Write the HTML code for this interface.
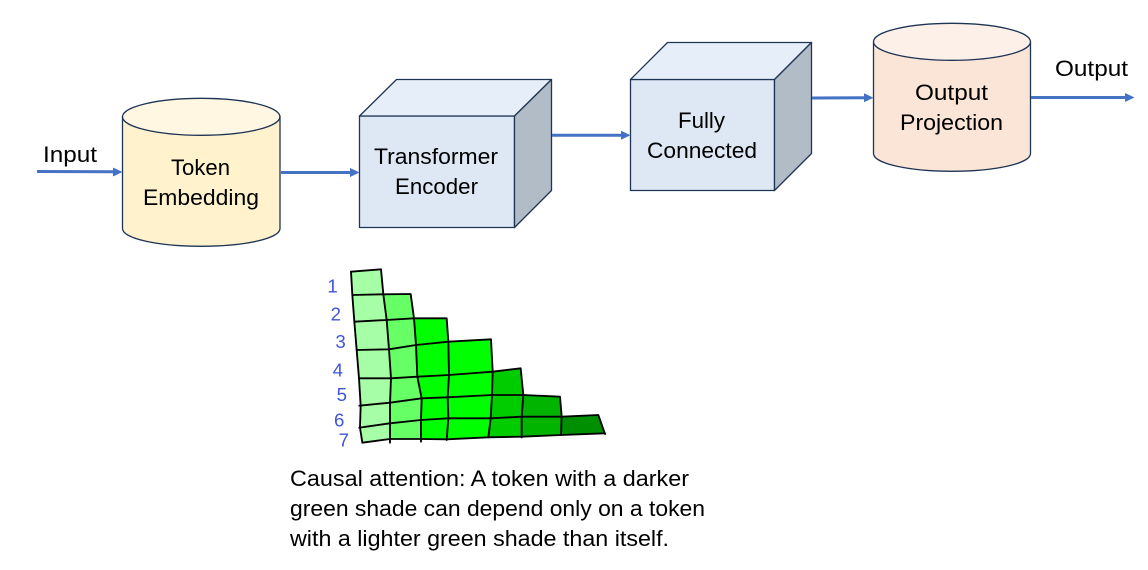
<!DOCTYPE html>
<html>
<head>
<meta charset="utf-8">
<style>
html,body{margin:0;padding:0;background:#fff;width:1148px;height:570px;overflow:hidden}
svg{display:block}
text{font-family:"Liberation Sans",sans-serif;font-size:22px;fill:#000}
.s{stroke:#1f3556;stroke-width:1.3;stroke-linejoin:round}
.a{stroke:#4472c4;stroke-width:3;fill:none}
.h{fill:none;stroke:#000;stroke-width:5.6;stroke-linejoin:round;stroke-linecap:round}
.d{font-size:56px;fill:#3f55d8}
</style>
</head>
<body>
<svg width="1148" height="570" viewBox="0 0 1148 570" xmlns="http://www.w3.org/2000/svg">
<rect width="1148" height="570" fill="#fff"/>

<!-- Cylinder 1 -->
<path class="s" fill="#fff2cc" d="M122.5 116V228.5C122.5 238.5 157.5 246.3 201.2 246.3S280 238.5 280 228.5V116Z"/>
<ellipse class="s" fill="#fff7e1" cx="201.2" cy="116.8" rx="78.7" ry="18.5"/>

<!-- Cube 1 -->
<polygon class="s" fill="#dee8f5" points="359.5,116 514.5,116 514.5,227.5 359.5,227.5"/>
<polygon class="s" fill="#e6eff9" points="359.5,116 396.5,79.5 551.5,79.5 514.5,116"/>
<polygon class="s" fill="#b1bcc6" points="514.5,116 551.5,79.5 551.5,190.5 514.5,227.5"/>

<!-- Cube 2 -->
<polygon class="s" fill="#dee8f5" points="630.5,79.5 774.5,79.5 774.5,190.5 630.5,190.5"/>
<polygon class="s" fill="#e6eff9" points="630.5,79.5 667.5,42.5 811.5,42.5 774.5,79.5"/>
<polygon class="s" fill="#b1bcc6" points="774.5,79.5 811.5,42.5 811.5,153.5 774.5,190.5"/>

<!-- Cylinder 2 -->
<path class="s" fill="#fbe5d6" d="M873.5 41.8V153.5C873.5 163.5 908.5 171.3 952 171.3S1030.5 163.5 1030.5 153.5V41.8Z"/>
<ellipse class="s" fill="#fdf0e8" cx="952" cy="41.8" rx="78.5" ry="18.5"/>

<!-- Arrows -->
<g>
<line class="a" x1="37" y1="171.5" x2="115" y2="171.8"/><polygon fill="#4472c4" points="122.5,172 113,167.5 113,176.5"/>
<line class="a" x1="281" y1="172.5" x2="352" y2="172.5"/><polygon fill="#4472c4" points="359.5,172.5 350,168 350,177"/>
<line class="a" x1="552" y1="135.3" x2="623" y2="135.3"/><polygon fill="#4472c4" points="630.5,135.3 621,130.8 621,139.8"/>
<line class="a" x1="812" y1="98" x2="866" y2="97.7"/><polygon fill="#4472c4" points="873.5,97.7 864,93.2 864,102.2"/>
<line class="a" x1="1031" y1="97.5" x2="1127" y2="97.5"/><polygon fill="#4472c4" points="1134.5,97.5 1125,93 1125,102"/>
</g>

<!-- Labels -->
<text x="43" y="162" textLength="54" lengthAdjust="spacingAndGlyphs">Input</text>
<text x="171" y="175" textLength="59" lengthAdjust="spacingAndGlyphs">Token</text>
<text x="143" y="205" textLength="116" lengthAdjust="spacingAndGlyphs">Embedding</text>
<text x="374" y="164" textLength="124" lengthAdjust="spacingAndGlyphs">Transformer</text>
<text x="395" y="194" textLength="83" lengthAdjust="spacingAndGlyphs">Encoder</text>
<text x="678" y="128" textLength="47" lengthAdjust="spacingAndGlyphs">Fully</text>
<text x="647" y="158" textLength="110" lengthAdjust="spacingAndGlyphs">Connected</text>
<text x="915" y="100" textLength="73" lengthAdjust="spacingAndGlyphs">Output</text>
<text x="900" y="130" textLength="103" lengthAdjust="spacingAndGlyphs">Projection</text>
<text x="1055" y="76" textLength="73" lengthAdjust="spacingAndGlyphs">Output</text>

<!-- Hand-drawn grid -->
<g transform="translate(320 260) scale(0.33333)">
<polygon fill="#a6ffa6" points="93,35 183,28 190,103 200,180 207,268 213,355 210,430 210,537 127,548 122,437 117,355 110,270 103,185 97,105"/>
<polygon fill="#66ff66" points="190,103 272,102 282,175 288,255 292,350 305,415 303,537 210,537 210,430 213,355 207,268 200,180"/>
<polygon fill="#00ff00" points="282,175 380,175 385,245 513,238 518,335 516,405 512,475 505,532 303,537 305,415 292,350 288,255"/>
<polygon fill="#00cc00" points="518,335 602,325 610,405 605,470 605,530 505,532 512,475 516,405"/>
<polygon fill="#00b400" points="610,405 720,410 725,470 723,525 605,530 605,470"/>
<polygon fill="#008f00" points="725,470 835,465 855,520 723,525"/>

<polyline class="h" points="93,35 97,105 103,185 110,270 117,355 122,437 120,503 127,548"/>
<polyline class="h" points="93,35 183,28 190,103 200,180 207,268 213,355 210,430 210,490 210,548"/>
<polyline class="h" points="190,103 272,102 282,175 288,255 292,350 305,415 303,480 303,545"/>
<polyline class="h" points="282,175 380,175 385,245 387,345 383,412 385,475 380,540"/>
<polyline class="h" points="385,245 513,238 518,335 516,405 512,475 505,532"/>
<polyline class="h" points="518,335 602,325 610,405 605,470 605,532"/>
<polyline class="h" points="610,405 720,410 725,470 723,525"/>
<polyline class="h" points="725,470 835,465 855,522"/>
<polyline class="h" points="97,105 190,103"/>
<polyline class="h" points="103,185 200,180 282,175"/>
<polyline class="h" points="110,270 207,268 288,255 385,245"/>
<polyline class="h" points="117,355 213,355 292,350 387,345 518,335"/>
<polyline class="h" points="118,437 210,428 305,415 383,412 516,405 610,405"/>
<polyline class="h" points="118,503 210,490 303,480 385,475 512,475 605,470 725,470"/>
<polyline class="h" points="127,548 210,537 303,537 380,538 505,532 605,530 723,525 855,520"/>

<text class="d" x="22" y="97">1</text>
<text class="d" x="32" y="182">2</text>
<text class="d" x="46" y="264">3</text>
<text class="d" x="38" y="350">4</text>
<text class="d" x="50" y="423">5</text>
<text class="d" x="42" y="499">6</text>
<text class="d" x="56" y="560">7</text>
</g>

<!-- Caption -->
<text x="290" y="486" textLength="399" lengthAdjust="spacingAndGlyphs">Causal attention: A token with a darker</text>
<text x="290" y="516" textLength="415" lengthAdjust="spacingAndGlyphs">green shade can depend only on a token</text>
<text x="290" y="546" textLength="379" lengthAdjust="spacingAndGlyphs">with a lighter green shade than itself.</text>
</svg>
</body>
</html>
